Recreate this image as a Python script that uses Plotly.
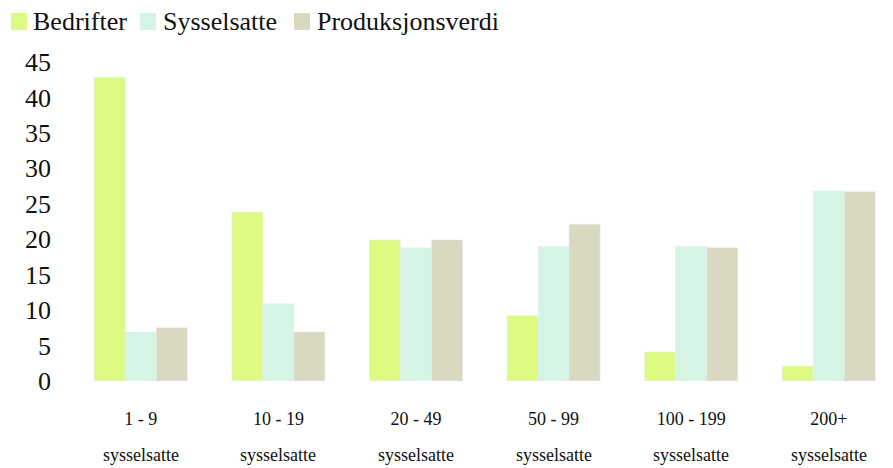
import plotly.graph_objects as go

categories = ["1 - 9", "10 - 19", "20 - 49", "50 - 99", "100 - 199", "200+"]
sub_label = "sysselsatte"
bedrifter = [42.8, 23.8, 19.9, 9.2, 4.1, 2.1]
sysselsatte = [6.9, 10.9, 18.8, 19.0, 19.0, 26.8]
produksjonsverdi = [7.5, 6.9, 19.9, 22.1, 18.8, 26.7]
y_ticks = [0, 5, 10, 15, 20, 25, 30, 35, 40, 45]

series = [("Bedrifter", bedrifter, "#DDFA83"),
          ("Sysselsatte", sysselsatte, "#D6F4E3"),
          ("Produksjonsverdi", produksjonsverdi, "#D9D8C0")]

FONT = "Liberation Serif, Times New Roman, serif"
OFF = 8  # page body margin
W, H = 893 - OFF, 468 - OFF
L, R, T, B = 72 - OFF, 0, 62 - OFF, 87
PW, PH = W - L - R, H - T - B


def px(x):
    return (x - OFF - L) / PW


def py(y):
    return (H - B - (y - OFF)) / PH


fig = go.Figure()
for name, vals, col in series:
    fig.add_bar(name=name, x=categories, y=vals, marker_color=col, showlegend=False)

# second line of category labels
for c in categories:
    fig.add_annotation(x=c, xref="x", y=0, yref="paper", text=sub_label,
                       showarrow=False, yanchor="middle", yshift=-74,
                       font=dict(family=FONT, size=18, color="#111111"))

# legend drawn as swatches + text
legend_swatch_x = [11, 140, 294]
legend_text_x = [31, 161, 315]
for (name, vals, col), sx, tx in zip(series, legend_swatch_x, legend_text_x):
    fig.add_shape(type="rect", xref="paper", yref="paper",
                  x0=px(sx), x1=px(sx + 16), y0=py(30), y1=py(13),
                  fillcolor=col, line_width=0)
    fig.add_annotation(x=px(tx), xref="paper", y=py(21), yref="paper", text=name,
                       showarrow=False, xanchor="left", yanchor="middle",
                       font=dict(family=FONT, size=26, color="#111111"))

fig.update_layout(
    width=W, height=H,
    margin=dict(l=L, r=R, t=T, b=B),
    paper_bgcolor="white", plot_bgcolor="white",
    barmode="group", bargap=0.324, bargroupgap=0,
    font=dict(family=FONT, color="#111111"),
    showlegend=False,
    xaxis=dict(range=[-0.5, 5.467], showgrid=False, showline=False, zeroline=False,
               automargin=False,
               tickfont=dict(family=FONT, size=18), ticks="", ticklabelstandoff=25),
    yaxis=dict(range=[0, 45], tickvals=y_ticks, showgrid=False, showline=False, zeroline=False,
               automargin=False,
               tickfont=dict(family=FONT, size=26), ticks="", ticklabelstandoff=20),
)

fig.write_html("out.html")
